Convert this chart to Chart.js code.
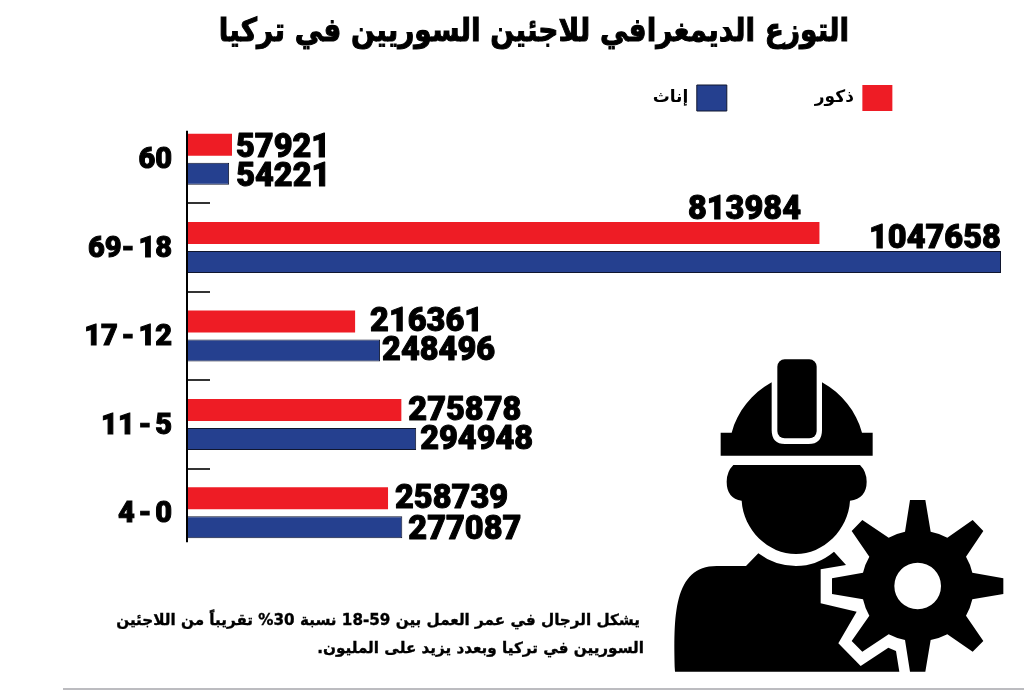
<!DOCTYPE html>
<html lang="ar">
<head>
<meta charset="utf-8">
<script src="https://cdn.jsdelivr.net/npm/chart.js@4"></script>
<style>
html,body{margin:0;padding:0;background:#fff;width:1024px;height:690px;overflow:hidden}
#wrap{position:relative;width:1024px;height:690px}
canvas{position:absolute;left:0;top:0}
#title{position:absolute;left:134px;top:11px;width:800px;margin:0;text-align:center;direction:rtl;font:bold 28px/40px "DejaVu Sans",sans-serif;color:#000;white-space:nowrap;-webkit-text-stroke:.9px #000;transform:scaleY(1.15)}
#note{position:absolute;right:380px;top:607px;width:600px;direction:rtl;text-align:right;font:bold 15.2px/27.5px "DejaVu Sans",sans-serif;color:#000;white-space:nowrap;-webkit-text-stroke:.35px #000}
#note span{padding-right:4px}
#rule{position:absolute;left:63px;top:688px;width:961px;height:2px;background:#bcbcc0}
#icon{position:absolute;left:660px;top:350px;width:364px;height:340px}
</style>
</head>
<body>
<div id="wrap">
<canvas id="c" width="1024" height="690"></canvas>
<h1 id="title">التوزع الديمغرافي للاجئين السوريين في تركيا</h1>
<svg id="icon" viewBox="0 0 1092 1020" xmlns="http://www.w3.org/2000/svg" aria-hidden="true">
<path fill="#000" d="M335 97C275 130 232 185 215 248H182V317H638V248H606C589 185 546 130 486 97V240Q486 282 446 282H375Q335 282 335 240Z"/>
<rect x="352" y="28" width="118" height="237" rx="22" fill="#000"/>
<path fill="#000" d="M220 345H600Q620 365 620 395Q620 445 570 452C565 540 490 612 408 612C325 612 250 540 245 452Q200 445 200 395Q200 365 220 345Z"/>
<path fill="#000" d="M295 610Q345 648 408 648Q470 648 522 605L558 645L482 658V760L590 785L535 880L602 948L685 893L708 903L718 965H45C40 800 40 648 170 648H258Z"/>
<path fill="#000" fill-rule="evenodd" d="M735 545L750 450H796L812 545A170 170 0 0 1 862 563L938 510L970 543L918 620A170 170 0 0 1 937 668L1030 685V732L937 748A170 170 0 0 1 918 797L970 873L938 905L862 853A170 170 0 0 1 812 870L796 965H750L735 870A170 170 0 0 1 686 853L607 905L575 873L628 797A170 170 0 0 1 609 748L516 732V685L609 668A170 170 0 0 1 628 620L575 543L607 510L686 563A170 170 0 0 1 735 545ZM843 708A70 70 0 1 0 703 708A70 70 0 1 0 843 708Z"/>
</svg>
<div id="note"><span>يشكل الرجال في عمر العمل بين 59-18 نسبة 30% تقريباً من اللاجئين</span><br>السوريين في تركيا وبعدد يزيد على المليون.</div>
<div id="rule"></div>
</div>
<script>
const categories = ["60", "69- 18", "17 - 12", "11 - 5", "4 - 0"];
const maleLabel = "ذكور";
const femaleLabel = "إناث";
const maleValues = [57921, 813984, 216361, 275878, 258739];
const femaleValues = [54221, 1047658, 248496, 294948, 277087];
const xMax = 1047658;
const maleShiftX = [4, -131.5, 15, 7, 7];
const maleShiftY = [4, -22, 1, 2, 2];
const femaleShiftX = [7, -132, 2, 4, 6];
const femaleShiftY = [4, -22, 1, 2, 4];
const numberFont = '900 32.5px Roboto, sans-serif';

const decor = {
  id: 'decor',
  beforeLayout(chart) {
    const l = chart.legend;
    if (!l._patched) {
      const fit = l.fit;
      l.fit = function () { fit.call(this); this.height = 115; };
      l._patched = true;
    }
  },
  afterLayout(chart) {
    const l = chart.legend;
    l.left = 500; l.right = 1045; l.width = 545; l.top = -3; l.bottom = 120; l.height = 123;
  },
  beforeDraw(chart) {
    chart.ctx.direction = 'ltr';
    chart.ctx.wordSpacing = '-3.5px';
  },
  afterDatasetsDraw(chart) {
    const {ctx, scales: {y}} = chart;
    const step = y.getPixelForValue(1) - y.getPixelForValue(0);
    const axisX = chart.chartArea.left;
    ctx.save();
    ctx.strokeStyle = '#000';
    ctx.lineWidth = 2;
    ctx.beginPath();
    ctx.moveTo(axisX, y.getPixelForValue(0) - step / 3.1);
    ctx.lineTo(axisX, y.getPixelForValue(categories.length - 1) + step / 3);
    ctx.stroke();
    ctx.lineWidth = 1.6;
    for (let i = 0; i < categories.length - 1; i++) {
      const py = Math.round(y.getPixelForValue(i) + step / 2);
      ctx.beginPath();
      ctx.moveTo(axisX, py);
      ctx.lineTo(axisX + 23, py);
      ctx.stroke();
    }
    ctx.fillStyle = '#000';
    ctx.font = numberFont;
    ctx.textAlign = 'left';
    ctx.textBaseline = 'middle';
    ctx.lineWidth = 1;
    ctx.lineJoin = 'round';
    const shiftsX = [maleShiftX, femaleShiftX];
    const shiftsY = [maleShiftY, femaleShiftY];
    chart.data.datasets.forEach((ds, d) => {
      chart.getDatasetMeta(d).data.forEach((bar, i) => {
        const tx = bar.x + shiftsX[d][i], ty = bar.y + shiftsY[d][i];
        ctx.strokeText(String(ds.data[i]), tx, ty);
        ctx.fillText(String(ds.data[i]), tx, ty);
      });
    });
    ctx.restore();
  }
};

new Chart(document.getElementById('c'), {
  type: 'bar',
  data: {
    labels: categories,
    datasets: [
      {label: maleLabel, data: maleValues, backgroundColor: '#ee1c25', borderColor: '#ee1c25', borderWidth: 0},
      {label: femaleLabel, data: femaleValues, backgroundColor: '#25408f', borderColor: '#10162f', borderWidth: 1}
    ]
  },
  plugins: [decor],
  options: {
    indexAxis: 'y',
    responsive: false,
    devicePixelRatio: 1,
    animation: false,
    events: [],
    categoryPercentage: 0.656,
    barPercentage: 0.76,
    layout: {padding: {left: 0, right: 23, top: 0, bottom: 133}},
    plugins: {
      tooltip: {enabled: false},
      title: {display: false},
      legend: {
        display: true,
        position: 'top',
        rtl: true,
        textDirection: 'rtl',
        labels: {
          color: '#000',
          boxWidth: 30,
          boxHeight: 26,
          padding: 88,
          font: {family: '"DejaVu Sans", sans-serif', size: 17, weight: 'bold'}
        }
      }
    },
    scales: {
      x: {display: false, min: 0, max: xMax, grid: {display: false}},
      y: {
        grid: {display: false},
        border: {display: false},
        afterFit(s) { s.width = 187; },
        ticks: {color: '#000', padding: 7, labelOffset: 2, textStrokeColor: '#000', textStrokeWidth: 1, font: {family: 'Roboto, sans-serif', size: 29, weight: '900'}}
      }
    }
  }
});
</script>
</body>
</html>
